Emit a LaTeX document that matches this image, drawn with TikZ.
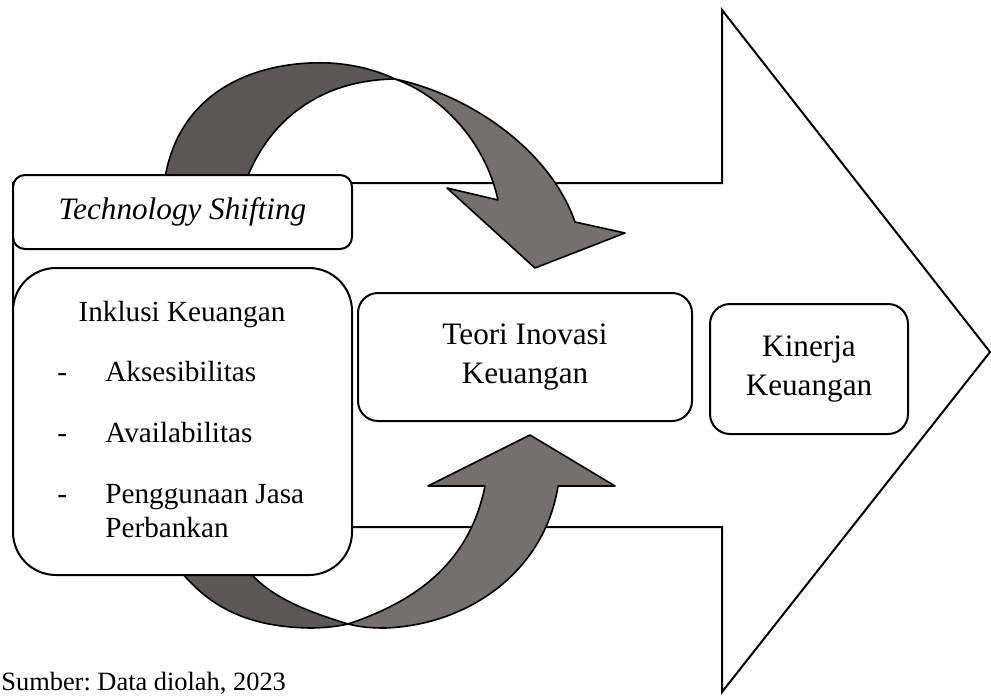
\documentclass[tikz,border=0pt]{standalone}
\usepackage{fontspec}
\setmainfont{Liberation Serif}
\usepackage{xcolor}
\definecolor{bandback}{RGB}{90,88,87}
\definecolor{bandfront}{RGB}{116,112,110}
\frenchspacing

\begin{document}
\begin{tikzpicture}
    \tikzset{
        rbox/.style={draw,line width=1pt,fill=white,rounded corners=#1,
            inner sep=0pt,align=center,font=\fontsize{15.6}{19.5}\selectfont},
        rbox/.default=10pt,
        band/.style={draw,line width=0.8pt,line join=round},
        itemtxt/.style={inner sep=0pt,anchor=base west,
            font=\fontsize{14.6}{17}\selectfont},
        x={(0.5pt,0pt)},
        y={(0pt,-0.5pt)}
    }
    \useasboundingbox (0,0) rectangle (991,697);
    % big arrow
    \draw[line width=1pt,fill=white] (13,183) -- (722,183) -- (722,10) -- (990,352)
        -- (722,692) -- (722,527) -- (13,527) -- cycle;
    % top curved arrow
    \path[band,fill=bandback] (162,200) -- (165,178) .. controls (180,88) and (260,60) .. (330,63)
        .. controls (360,65) and (380,72) .. (395,79)
        .. controls (320,80) and (270,120) .. (247,178) -- (243,200) -- cycle;
    \path[band,fill=bandfront] (395,79) .. controls (470,95) and (550,150) .. (575,222)
        -- (625,233) -- (535,268) -- (447,188) -- (498,200)
        .. controls (485,140) and (440,95) .. (395,79) -- cycle;
    % bottom curved arrow
    \path[band,fill=bandback] (170,555) -- (182,573) .. controls (215,612) and (255,627) .. (310,628)
        .. controls (325,628) and (340,626) .. (348,624)
        .. controls (310,612) and (275,600) .. (250,573) -- (238,555) -- cycle;
    \path[band,fill=bandfront] (348,624) .. controls (360,627) and (370,628) .. (385,628)
        .. controls (470,625) and (545,570) .. (558,486)
        -- (615,486) -- (530,435) -- (428,486) -- (485,486)
        .. controls (470,560) and (420,600) .. (348,624) -- cycle;
    % boxes
    \node[rbox=6pt,minimum width=169.5pt,minimum height=37pt] (tech) at (182.5,212)
        {\itshape Technology Shifting};
    \node[rbox=21.5pt,minimum width=169.5pt,minimum height=153.5pt] (inklusi) at (182.5,421.5) {};
    \node[rbox,minimum width=167pt,minimum height=64pt] (teori) at (525,357)
        {Teori Inovasi\\Keuangan};
    \node[rbox,minimum width=99pt,minimum height=65pt] (kinerja) at (809,369)
        {Kinerja\\Keuangan};
    % list
    \node[itemtxt,anchor=base] (inkTitle) at (182,321) {Inklusi Keuangan};
    \foreach \yy/\lbl in {381/Aksesibilitas,442/Availabilitas,503/Penggunaan Jasa} {
        \node[itemtxt] (dash\yy) at (57,\yy) {-};
        \node[itemtxt] (item\yy) at (105,\yy) {\lbl};
    }
    \node[itemtxt] (item537) at (105,537) {Perbankan};
    \node[inner sep=0pt,anchor=base west,font=\fontsize{13.2}{15}\selectfont] (sumber)
        at (1,690) {Sumber: Data diolah, 2023};
\end{tikzpicture}
\end{document}
